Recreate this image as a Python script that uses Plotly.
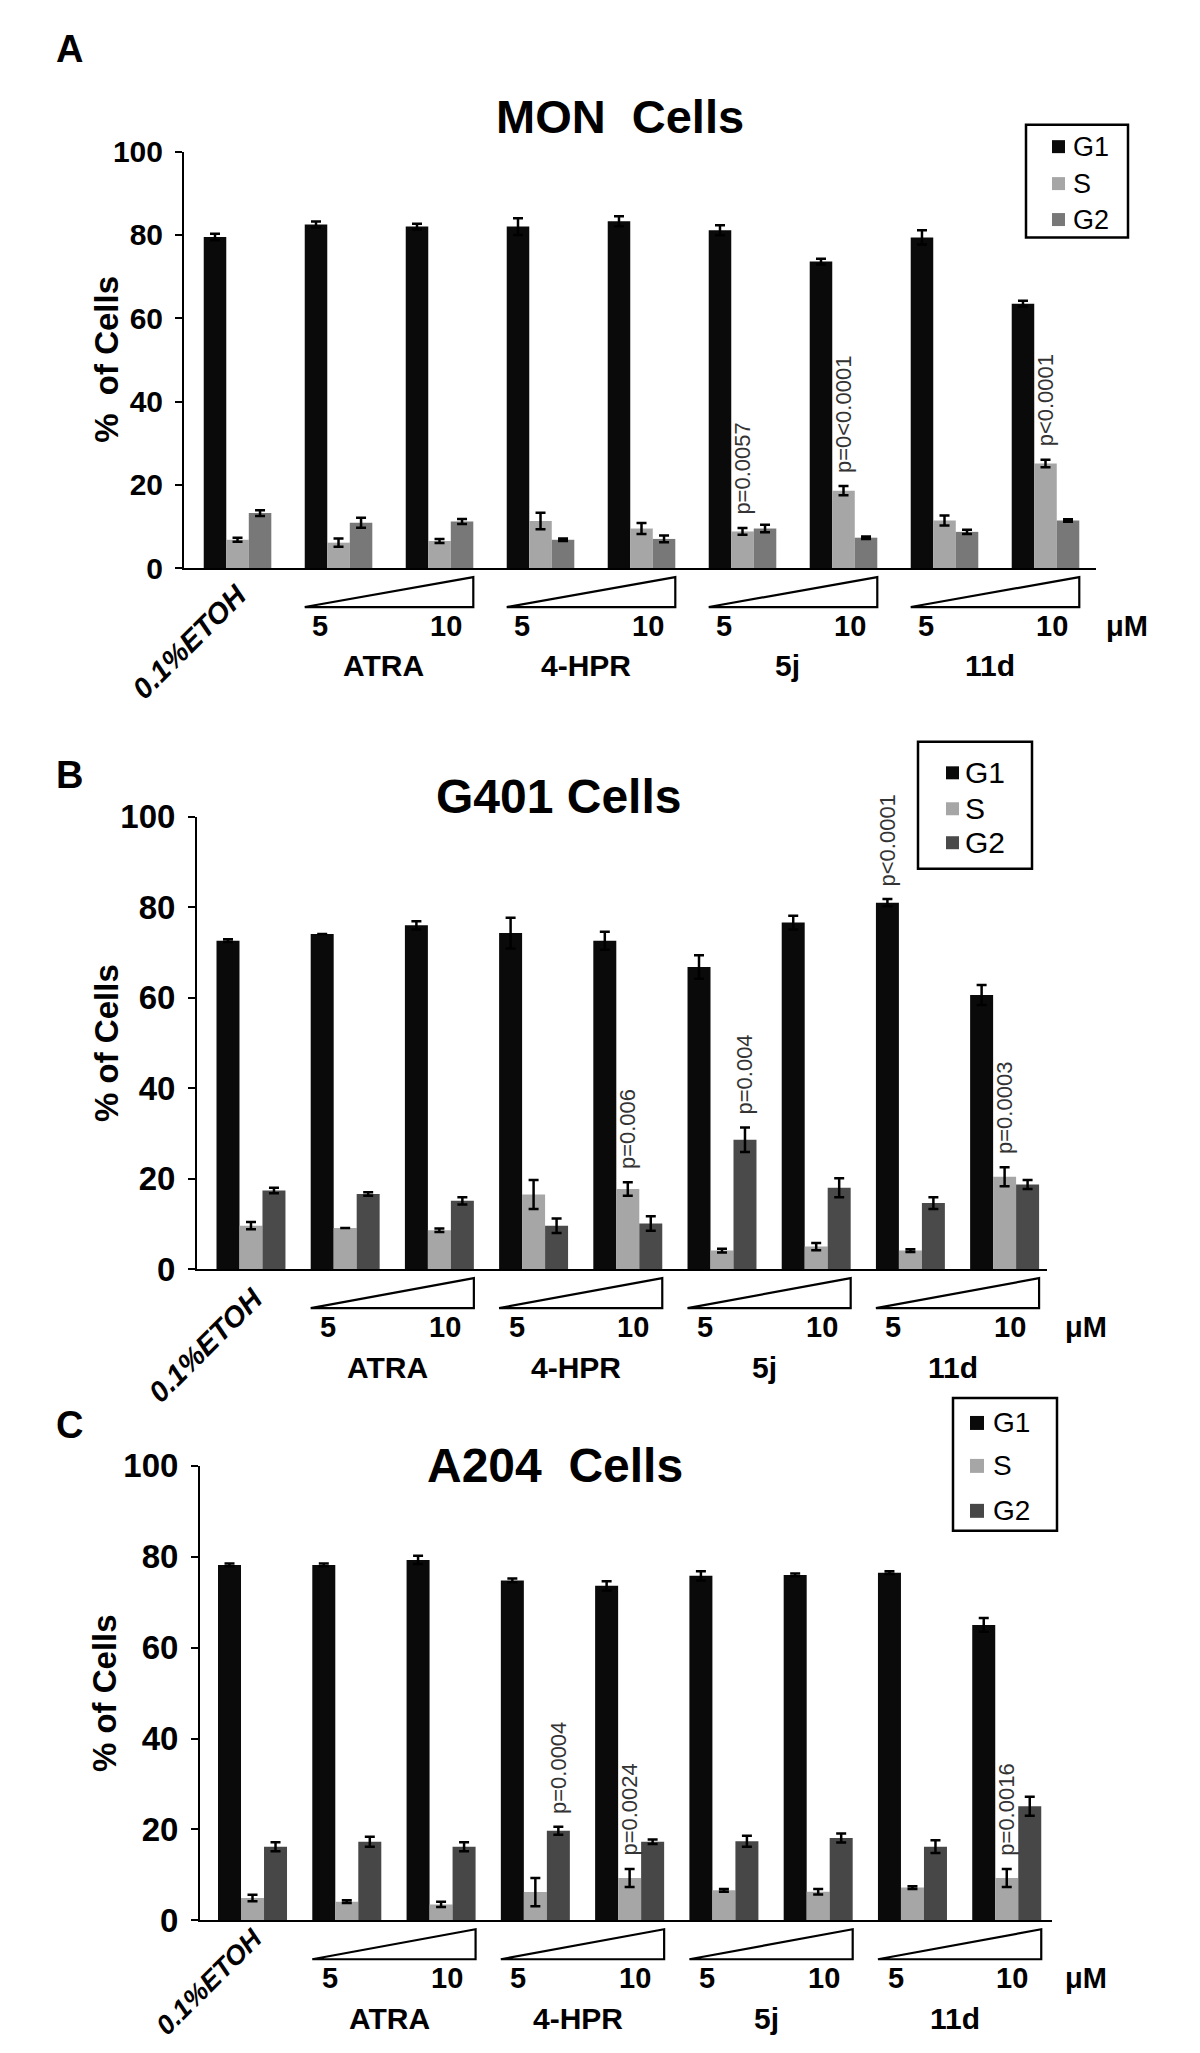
import plotly.graph_objects as go

W, H = 1200, 2053
# empirical page mapping (body margin / page height) used to place items at target pixel positions
X_OFF = 8
Y_SCALE, Y_OFF = 1.017, 24.6

# ---------------- data ----------------
groups = ["0.1%ETOH", "ATRA 5", "ATRA 10", "4-HPR 5", "4-HPR 10",
          "5j 5", "5j 10", "11d 5", "11d 10"]
drugs = ["ATRA", "4-HPR", "5j", "11d"]
dose_labels = ["5", "10"]
phases = ["G1", "S", "G2"]
y_ticks = [0, 20, 40, 60, 80, 100]

# Panel A - MON cells
mon_g1 = [79.5, 82.5, 82.0, 82.0, 83.3, 81.1, 73.6, 79.4, 63.5]
mon_g1_err = [0.8, 0.7, 0.7, 2.0, 1.2, 1.2, 0.7, 1.7, 0.7]
mon_s = [6.8, 6.1, 6.5, 11.3, 9.5, 8.8, 18.6, 11.4, 25.1]
mon_s_err = [0.5, 1.0, 0.5, 2.0, 1.3, 0.8, 1.1, 1.2, 0.9]
mon_g2 = [13.2, 10.9, 11.2, 6.8, 7.0, 9.5, 7.3, 8.7, 11.4]
mon_g2_err = [0.7, 1.2, 0.6, 0.3, 0.8, 0.9, 0.3, 0.5, 0.3]
mon_pvals = [("p=0.0057", 5, "S"), ("p=0<0.0001", 6, "S"), ("p<0.0001", 8, "S")]

# Panel B - G401 cells
g401_g1 = [72.6, 74.1, 76.0, 74.3, 72.6, 66.8, 76.6, 81.0, 60.6]
g401_g1_err = [0.3, 0.0, 0.9, 3.4, 2.0, 2.6, 1.5, 0.8, 2.2]
g401_s = [9.6, 9.1, 8.6, 16.5, 17.7, 4.1, 5.0, 4.1, 20.4]
g401_s_err = [0.8, 0.0, 0.4, 3.2, 1.5, 0.4, 0.8, 0.3, 2.1]
g401_g2 = [17.4, 16.6, 15.1, 9.6, 10.1, 28.6, 18.0, 14.6, 18.7]
g401_g2_err = [0.6, 0.4, 0.8, 1.6, 1.6, 2.7, 2.1, 1.3, 1.0]
g401_pvals = [("p=0.006", 4, "S"), ("p=0.004", 5, "G2"), ("p<0.0001", 7, "G1"), ("p=0.0003", 8, "S")]

# Panel C - A204 cells
a204_g1 = [78.2, 78.2, 79.3, 74.8, 73.6, 75.8, 76.0, 76.5, 65.0]
a204_g1_err = [0.3, 0.3, 0.9, 0.4, 1.0, 1.0, 0.3, 0.3, 1.5]
a204_s = [4.9, 4.1, 3.5, 6.2, 9.3, 6.6, 6.3, 7.2, 9.3]
a204_s_err = [0.7, 0.3, 0.6, 3.1, 2.0, 0.3, 0.6, 0.3, 2.0]
a204_g2 = [16.2, 17.3, 16.2, 19.7, 17.3, 17.4, 18.1, 16.2, 25.1]
a204_g2_err = [1.0, 1.1, 1.0, 0.9, 0.5, 1.2, 1.0, 1.4, 2.1]
a204_pvals = [("p=0.0004", 3, "G2"), ("p=0.0024", 4, "S"), ("p=0.0016", 8, "S")]

# ---------------- styling / layout ----------------
FONT = "Liberation Sans, Arial, sans-serif"
S_COLOR = "#a6a6a6"
G1_COLOR = "#0a0a0a"


def px(xp):
    return (xp - X_OFF) / W


def py(yp):
    return 1 - (Y_SCALE * yp - Y_OFF) / H


panels = [
    dict(letter="A", title="MON  Cells", ytitle="%  of Cells",
         vals=(mon_g1, mon_s, mon_g2), errs=(mon_g1_err, mon_s_err, mon_g2_err),
         pvals=mon_pvals, g2color="#787878",
         xpx=(184, 1096), ypx=(567, 150), xr=(-0.53, 8.50), bw=0.223,
         title_xy=(620, 115), title_size=47, letter_xy=(69, 47),
         ytitle_x=107, tick_size=30, etoh=(-0.48, 74, 29),
         leg_box=(1026, 123, 1128, 236), leg_mx=1052, leg_ms=13, leg_tx=1071,
         leg_ys=(145, 182, 218), leg_fs=27, mu_x=1127),
    dict(letter="B", title="G401 Cells", ytitle="% of Cells",
         vals=(g401_g1, g401_s, g401_g2), errs=(g401_g1_err, g401_s_err, g401_g2_err),
         pvals=g401_pvals, g2color="#4a4a4a",
         xpx=(197, 1047), ypx=(1269, 816), xr=(-0.573, 8.45), bw=0.244,
         title_xy=(558, 796), title_size=48, letter_xy=(69, 774),
         ytitle_x=107, tick_size=33, etoh=(-0.48, 76, 29),
         leg_box=(918, 741, 1032, 868), leg_mx=946, leg_ms=13, leg_tx=963,
         leg_ys=(772, 808, 842), leg_fs=30, mu_x=1086),
    dict(letter="C", title="A204  Cells", ytitle="% of Cells",
         vals=(a204_g1, a204_s, a204_g2), errs=(a204_g1_err, a204_s_err, a204_g2_err),
         pvals=a204_pvals, g2color="#474747",
         xpx=(200, 1052), ypx=(1921, 1466), xr=(-0.557, 8.48), bw=0.244,
         title_xy=(555, 1466), title_size=48, letter_xy=(69, 1425),
         ytitle_x=104, tick_size=33, etoh=(-0.46, 62, 27),
         leg_box=(953, 1398, 1057, 1531), leg_mx=970, leg_ms=14, leg_tx=991,
         leg_ys=(1423, 1466, 1511), leg_fs=28, mu_x=1086),
]

fig = go.Figure()
annotations = []
shapes = []
xpos = list(range(len(groups)))

layout_axes = {}
for k, p in enumerate(panels):
    sfx = "" if k == 0 else str(k + 1)
    xa, ya = "x" + sfx, "y" + sfx
    colors = (G1_COLOR, S_COLOR, p["g2color"])
    bw = p["bw"]
    offsets = (-1.5 * bw, -0.5 * bw, 0.5 * bw)
    for j, ph in enumerate(phases):
        fig.add_trace(go.Bar(
            x=xpos, y=p["vals"][j], name=ph, xaxis=xa, yaxis=ya,
            width=bw, offset=offsets[j],
            marker=dict(color=colors[j], line=dict(width=0)),
            error_y=dict(type="data", array=p["errs"][j], visible=True,
                         color="black", thickness=2.5, width=5),
            showlegend=False,
        ))

    x0, x1 = p["xpx"]
    yb, yt = p["ypx"]
    layout_axes["xaxis" + sfx] = dict(
        domain=[px(x0), px(x1)], range=list(p["xr"]), anchor=ya,
        showline=True, linecolor="black", linewidth=2, ticks="",
        showticklabels=False, showgrid=False, zeroline=False, fixedrange=True)
    layout_axes["yaxis" + sfx] = dict(
        domain=[py(yb), py(yt)], range=[0, 100], anchor=xa,
        showline=True, linecolor="black", linewidth=2,
        ticks="outside", ticklen=7, tickwidth=2, tickcolor="black",
        tickvals=y_ticks, ticklabelstandoff=6,
        tickfont=dict(family=FONT, size=p["tick_size"], color="black", weight="bold"),
        showgrid=False, zeroline=False, fixedrange=True)

    # panel letter & title
    annotations.append(dict(text=p["letter"], x=px(p["letter_xy"][0]), y=py(p["letter_xy"][1]),
                            xref="paper", yref="paper", showarrow=False,
                            xanchor="center", yanchor="middle",
                            font=dict(family=FONT, size=38, color="black", weight="bold")))
    annotations.append(dict(text=p["title"], x=px(p["title_xy"][0]), y=py(p["title_xy"][1]),
                            xref="paper", yref="paper", showarrow=False,
                            xanchor="center", yanchor="middle",
                            font=dict(family=FONT, size=p["title_size"], color="black", weight="bold")))
    # y title
    annotations.append(dict(text=p["ytitle"], x=px(p["ytitle_x"]), y=py((yb + yt) / 2),
                            xref="paper", yref="paper", showarrow=False, textangle=-90,
                            xanchor="center", yanchor="middle",
                            font=dict(family=FONT, size=33, color="black", weight="bold")))

    # x labels
    ex, edy, efs = p["etoh"]
    annotations.append(dict(text="0.1%ETOH", x=ex, y=py(yb + edy), xref=xa, yref="paper",
                            showarrow=False, textangle=-45, xanchor="center", yanchor="middle",
                            font=dict(family=FONT, size=efs, color="black", weight="bold",
                                      style="italic")))
    hw = 1.5 * bw
    for d, drug in enumerate(drugs):
        i1, i2 = 1 + 2 * d, 2 + 2 * d
        annotations.append(dict(text=dose_labels[0], x=i1 - 0.18, y=py(yb + 58), xref=xa,
                                yref="paper", showarrow=False, xanchor="center", yanchor="middle",
                                font=dict(family=FONT, size=29, color="black", weight="bold")))
        annotations.append(dict(text=dose_labels[1], x=i2 + 0.06, y=py(yb + 58), xref=xa,
                                yref="paper", showarrow=False, xanchor="center", yanchor="middle",
                                font=dict(family=FONT, size=29, color="black", weight="bold")))
        annotations.append(dict(text=drug, x=(i1 + i2) / 2 - 0.05, y=py(yb + 98), xref=xa,
                                yref="paper", showarrow=False, xanchor="center", yanchor="middle",
                                font=dict(family=FONT, size=30, color="black", weight="bold")))
        xl, xr_ = i1 - hw, i2 + hw
        ybase, ytop = py(yb + 39), py(yb + 9)
        shapes.append(dict(type="path", xref=xa, yref="paper",
                           path=f"M {xl},{ybase} L {xr_},{ybase} L {xr_},{ytop} Z",
                           line=dict(color="black", width=2.2), fillcolor="rgba(0,0,0,0)"))
    annotations.append(dict(text="μM", x=px(p["mu_x"]), y=py(yb + 58), xref="paper", yref="paper",
                            showarrow=False, xanchor="center", yanchor="middle",
                            font=dict(family=FONT, size=29, color="black", weight="bold")))

    # p-values
    for txt, gi, ph in p["pvals"]:
        j = phases.index(ph)
        top = p["vals"][j][gi] + p["errs"][j][gi]
        annotations.append(dict(text=txt, x=gi + offsets[j] + bw / 2, y=top, xref=xa, yref=ya,
                                showarrow=False, textangle=-90, xanchor="center",
                                yanchor="bottom", yshift=11,
                                font=dict(family=FONT, size=22, color="#333333")))

    # legend box
    bx0, by0, bx1, by1 = p["leg_box"]
    shapes.append(dict(type="rect", xref="paper", yref="paper",
                       x0=px(bx0), x1=px(bx1), y0=py(by1), y1=py(by0),
                       line=dict(color="black", width=2.5), fillcolor="white"))
    ms = p["leg_ms"]
    for j, ph in enumerate(phases):
        cy = p["leg_ys"][j]
        shapes.append(dict(type="rect", xref="paper", yref="paper",
                           x0=px(p["leg_mx"]), x1=px(p["leg_mx"] + ms),
                           y0=py(cy + ms / 2), y1=py(cy - ms / 2),
                           line=dict(width=0), fillcolor=colors[j]))
        annotations.append(dict(text=ph, x=px(p["leg_tx"]), y=py(cy), xref="paper", yref="paper",
                                showarrow=False, xanchor="left", yanchor="middle",
                                font=dict(family=FONT, size=p["leg_fs"], color="black")))

fig.update_layout(
    width=W, height=H, margin=dict(l=0, r=0, t=0, b=0),
    paper_bgcolor="white", plot_bgcolor="white",
    barmode="overlay", showlegend=False,
    annotations=annotations, shapes=shapes,
    **layout_axes,
)

fig.write_html("out.html")
